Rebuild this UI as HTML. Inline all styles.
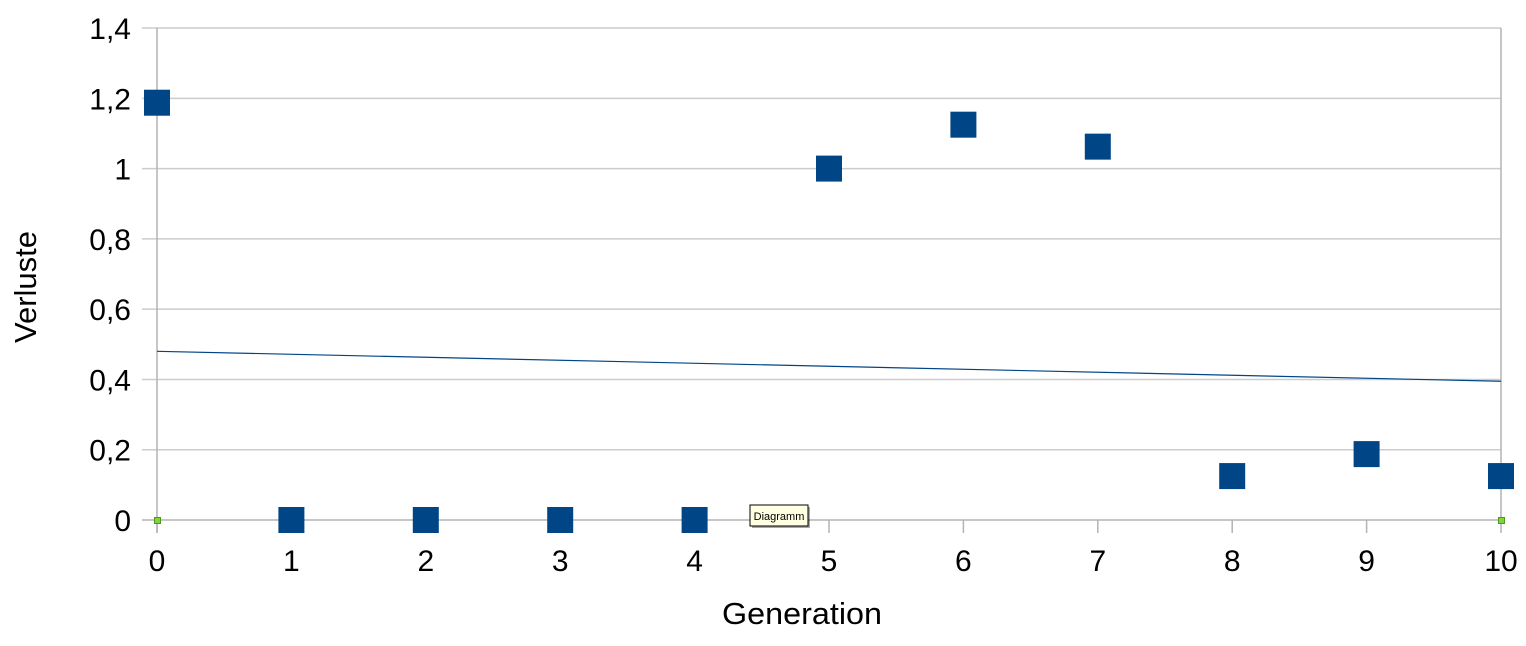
<!DOCTYPE html>
<html><head><meta charset="utf-8"><style>
body{margin:0;background:#fff}
svg text{font-family:"Liberation Sans",sans-serif;fill:#000}
</style></head><body>
<svg id="chart" width="1526" height="641" xmlns="http://www.w3.org/2000/svg">
<g id="grid"></g>
<g id="axes"></g>
<g id="trend"></g>
<g id="marks"></g>
<text x="802" y="624" font-size="31" text-anchor="middle" textLength="160" lengthAdjust="spacingAndGlyphs">Generation</text>
<text x="0" y="0" font-size="31" text-anchor="middle" transform="translate(36,287) rotate(-90)">Verluste</text>
<rect x="154.5" y="517.5" width="6" height="6" fill="#83d33a" stroke="#4b9a1a" stroke-width="1"/>
<rect x="1498.5" y="517.5" width="6" height="6" fill="#83d33a" stroke="#4b9a1a" stroke-width="1"/>
<g>
<rect x="752" y="507" width="58" height="21" fill="#000" opacity="0.35"/>
<rect x="750" y="505" width="58" height="21" fill="#ffffe1" stroke="#000" stroke-width="1"/>
<text x="779" y="520" font-size="11" text-anchor="middle">Diagramm</text>
</g>
</svg>
<script>
const xValues=[0,1,2,3,4,5,6,7,8,9,10];
const yValues=[1.1875,0,0,0,0,1,1.125,1.0625,0.125,0.1875,0.125];
const yTicks=[0,0.2,0.4,0.6,0.8,1,1.2,1.4];
const yTickLabels=["0","0,2","0,4","0,6","0,8","1","1,2","1,4"];
const xTicks=[0,1,2,3,4,5,6,7,8,9,10];
const NS="http://www.w3.org/2000/svg";
const X=v=>157+v*134.4;
const Y=v=>520-v*351.4;
function mk(parent,tag,attrs){const e=document.createElementNS(NS,tag);for(const k in attrs)e.setAttribute(k,attrs[k]);document.getElementById(parent).appendChild(e);return e;}
yTicks.forEach((t,i)=>{
  const l=mk('grid','line',{x1:142,x2:1501,y1:Y(t),y2:Y(t),stroke:t===0?'#b3b3b3':'#cccccc','stroke-width':1.5});
  
  
  const tx=mk('axes','text',{x:131,y:Y(t)+11,'font-size':30,'text-anchor':'end'});
  tx.textContent=yTickLabels[i];
  
  
});
mk('axes','line',{x1:157,x2:157,y1:Y(1.4),y2:533,stroke:'#b3b3b3','stroke-width':1.5});
xTicks.forEach(t=>{
  const vl=mk('axes','line',{x1:X(t),x2:X(t),y1:t===10?Y(1.4):520,y2:533,stroke:'#b3b3b3','stroke-width':1.5});
  
  
  const tx=mk('axes','text',{x:X(t),y:571,'font-size':30,'text-anchor':'middle'});
  tx.textContent=String(t);
  
  
});
const n=xValues.length,mx=xValues.reduce((a,b)=>a+b)/n,my=yValues.reduce((a,b)=>a+b)/n;
let sxy=0,sxx=0;xValues.forEach((x,i)=>{sxy+=(x-mx)*(yValues[i]-my);sxx+=(x-mx)*(x-mx);});
const slope=sxy/sxx,icpt=my-slope*mx;
const tl=mk('trend','line',{x1:X(0),y1:Y(icpt),x2:X(10),y2:Y(icpt+slope*10),stroke:'#004586','stroke-width':1.2});


xValues.forEach((x,i)=>{
  const r=mk('marks','rect',{x:X(x)-13,y:Y(yValues[i])-13,width:26,height:26,fill:'#004586'});
  
  
});
</script>
</body></html>
